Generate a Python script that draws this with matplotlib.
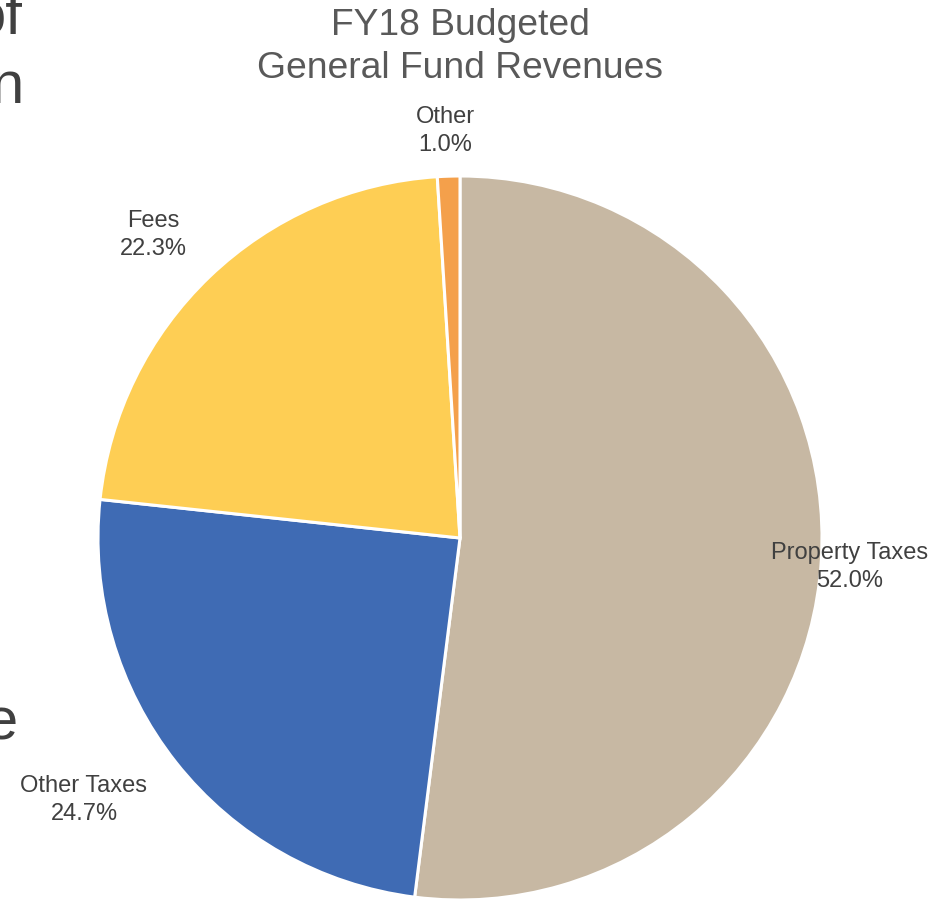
import matplotlib
matplotlib.use("Agg")
import matplotlib.pyplot as plt

plt.rcParams['font.family'] = ['Liberation Sans', 'DejaVu Sans']

# Revenue shares (percent), drawn clockwise from 12 o'clock
categories = ["Property Taxes", "Other Taxes", "Fees", "Other"]
shares = [52.0, 24.7, 22.3, 1.0]
colors = ["#C7B8A3", "#3F6BB4", "#FECE54", "#F4A04B"]

# label anchor points (pixels from top-left)
label_pos = {
    "Property Taxes": (850, 567),
    "Other Taxes": (84, 800),
    "Fees": (153, 235),
    "Other": (445, 131),
}

W, H = 949, 900
fig = plt.figure(figsize=(W / 100, H / 100), dpi=100)
ax = fig.add_axes([0, 0, 1, 1])

cx, cy, r = 460, H - 538, 362
ax.pie(shares, colors=colors, startangle=90, counterclock=False,
       center=(cx, cy), radius=r, frame=True,
       wedgeprops=dict(edgecolor="white", linewidth=2.2))
ax.set_xlim(0, W)
ax.set_ylim(0, H)
ax.set_aspect("equal")
ax.axis("off")

for name, val in zip(categories, shares):
    x, y = label_pos[name]
    ax.text(x, H - y, f"{name}\n{val:.1f}%", ha="center", va="center",
            fontsize=17, color="#404040", linespacing=1.37)

ax.text(460, H - 47, "FY18 Budgeted\nGeneral Fund Revenues", ha="center",
        va="center", fontsize=26.8, color="#595959", linespacing=1.3)

# fragments of the neighbouring slide text at the left edge
for s, x, yb in [("of", 22, 33), ("n", 23, 103), ("e", 18, 740)]:
    ax.text(x, H - yb, s, ha="right", va="baseline", fontsize=43,
            color="#404040")

fig.savefig("out.png", dpi=100)
